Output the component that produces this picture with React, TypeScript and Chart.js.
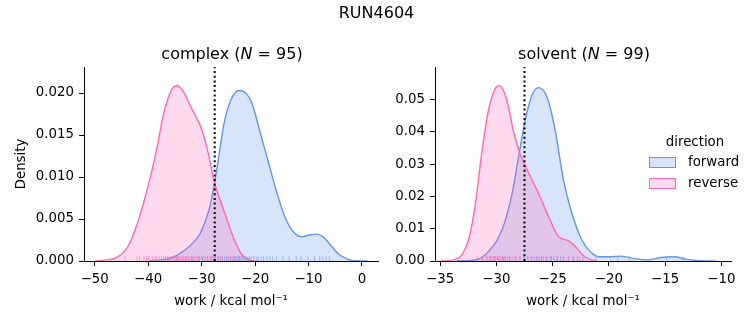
import React, { useEffect, useRef } from 'react';
import { Chart, registerables } from 'chart.js';

Chart.register(...registerables);

const FONT = '"DejaVu Sans", Verdana, sans-serif';
const BLUE = '#6495ED';
const PINK = '#FF69B4';
const BLUE_FILL = 'rgba(100,149,237,0.25)';
const PINK_FILL = 'rgba(255,105,180,0.25)';
const BLUE_RUG = 'rgba(100,149,237,0.55)';
const PINK_RUG = 'rgba(255,105,180,0.6)';

const suptitle = 'RUN4604';
const directionTitle = 'direction';
const directions = ['forward', 'reverse'];
const phases = ['complex', 'solvent'];
const sampleCounts = [95, 99];
const xAxisTitle = 'work / kcal mol\u207B\u00B9';
const yAxisTitle = 'Density';

// ---- complex panel ----
const complexXTicks = [-50, -40, -30, -20, -10, 0];
const complexYTicks = [0, 0.005, 0.01, 0.015, 0.02];
const complexXRange = [-52.0, 3.0];
const complexYMax = 0.0231;
const complexBar = -27.55;

const complexForwardX = [-40, -38.2, -36, -34.5, -32.0, -31.0, -30.1, -28.6, -27.6, -26.7, -25.8, -24.5, -23.0, -21.6, -20.6, -19.0, -17.6, -16.0, -14.5, -13.0, -11.3, -9.8, -8.5, -7.3, -6.0, -4.5, -2.6, -0.5, 1.0];
const complexForwardY = [0, 0.0001, 0.0003, 0.0007, 0.0019, 0.0026, 0.0035, 0.0061, 0.0092, 0.0128, 0.0164, 0.0192, 0.0203, 0.0199, 0.0188, 0.0152, 0.0120, 0.0083, 0.0054, 0.0036, 0.0029, 0.0031, 0.0032, 0.0029, 0.0020, 0.0009, 0.0002, 0, 0];
const complexReverseX = [-50, -48, -46.3, -45, -43.8, -42.0, -40.1, -38.5, -37.0, -35.5, -34.5, -33.0, -32.0, -31.0, -30.1, -29.0, -27.6, -26.0, -24.1, -22.5, -21.0, -19.5];
const complexReverseY = [0, 0.0001, 0.0003, 0.0008, 0.0017, 0.0045, 0.0087, 0.0130, 0.0178, 0.0205, 0.0209, 0.0197, 0.0183, 0.0171, 0.0159, 0.0135, 0.0094, 0.0063, 0.0029, 0.0008, 0.0001, 0];
const complexForwardRug = [-34.6, -32.9, -31.8, -30.5, -29.8, -28.9, -28.2, -27.6, -27.0, -26.5, -26.1, -25.7, -25.3, -24.9, -24.6, -24.3, -24.0, -23.7, -23.4, -23.1, -22.8, -22.5, -22.2, -21.9, -21.5, -21.1, -20.7, -20.3, -19.8, -19.4, -18.9, -18.4, -17.8, -17.2, -16.7, -16.0, -14.8, -13.6, -12.3, -11.4, -10.1, -8.9, -7.9, -7.3, -6.7, -6.1];
const complexReverseRug = [-44.3, -42.1, -41.6, -40.8, -40.3, -39.9, -39.2, -38.7, -38.4, -37.9, -37.5, -37.1, -36.8, -36.4, -36.1, -35.9, -35.6, -35.3, -35.0, -34.8, -34.6, -34.4, -34.1, -33.9, -33.6, -33.4, -33.1, -32.8, -32.5, -32.2, -31.9, -31.6, -31.3, -31.0, -30.7, -30.4, -30.0, -29.6, -29.2, -28.8, -28.3, -27.9, -27.4, -26.8, -26.1, -25.3, -24.6, -23.8, -22.9];

// ---- solvent panel ----
const solventXTicks = [-35, -30, -25, -20, -15, -10];
const solventYTicks = [0, 0.01, 0.02, 0.03, 0.04, 0.05];
const solventXRange = [-35.45, -9.15];
const solventYMax = 0.0601;
const solventBar = -27.5;

const solventForwardX = [-33.5, -31.9, -30.7, -29.5, -28.6, -28.03, -27.44, -26.84, -26.25, -25.5, -24.77, -24.03, -23.28, -22.4, -21.65, -20.76, -19.9, -18.98, -17.8, -16.6, -15.4, -14.24, -13.05, -11.87, -10.5];
const solventForwardY = [0, 0.0003, 0.0029, 0.0096, 0.0209, 0.0322, 0.0436, 0.0513, 0.0537, 0.0508, 0.0405, 0.0250, 0.0147, 0.0065, 0.0029, 0.0013, 0.0013, 0.0015, 0.0008, 0.0003, 0.0011, 0.0013, 0.0005, 0.0001, 0];
const solventReverseX = [-35, -34.26, -33.6, -33.07, -32.48, -31.9, -31.3, -30.7, -30.1, -29.75, -29.06, -28.5, -27.9, -27.1, -26.25, -25.35, -24.5, -23.6, -22.9, -22.3, -21.7, -21.0];
const solventReverseY = [0, 0.0001, 0.0006, 0.0019, 0.0065, 0.0168, 0.0333, 0.0467, 0.0534, 0.0544, 0.0498, 0.0405, 0.0333, 0.0271, 0.0209, 0.0137, 0.0077, 0.0063, 0.0042, 0.0018, 0.0005, 0];
const solventForwardRug = [-31.3, -30.2, -29.4, -28.8, -28.3, -27.9, -27.5, -27.2, -26.9, -26.6, -26.4, -26.2, -26.0, -25.8, -25.5, -25.2, -24.9, -24.6, -24.3, -24.0, -23.6, -23.2, -22.8, -22.3, -21.2, -19.2, -18.2, -14.9, -13.4];
const solventReverseRug = [-31.7, -31.2, -30.9, -30.8, -30.6, -30.5, -30.4, -30.2, -30.1, -30.0, -29.9, -29.8, -29.7, -29.6, -29.5, -29.4, -29.3, -29.2, -29.0, -28.8, -28.5, -28.2, -27.9, -27.6, -27.2, -26.8, -26.4, -26.0, -25.6, -25.1, -24.6, -24.1, -23.6, -23.1, -22.6];

const fmtMinus = (v: number) => (v < 0 ? '\u2212' + String(Math.abs(v)) : String(v));
const toPoints = (xs: number[], ys: number[]) => xs.map((x, i) => ({ x, y: ys[i] }));

const rugPlugin = {
  id: 'rug',
  afterDatasetDraw(chart: any, args: any, opts: any) {
    if (args.index !== 1 || !opts || !opts.series) return;
    const { ctx, chartArea } = chart;
    const xs = chart.scales.x;
    const h = (chartArea.bottom - chartArea.top) * 0.025;
    ctx.save();
    ctx.beginPath();
    ctx.rect(chartArea.left, chartArea.top, chartArea.right - chartArea.left, chartArea.bottom - chartArea.top);
    ctx.clip();
    ctx.lineWidth = 1;
    for (const s of opts.series) {
      ctx.strokeStyle = s.color;
      for (const v of s.values) {
        const px = xs.getPixelForValue(v);
        ctx.beginPath();
        ctx.moveTo(px, chartArea.bottom);
        ctx.lineTo(px, chartArea.bottom - h);
        ctx.stroke();
      }
    }
    ctx.restore();
  },
};

function makeConfig(p: any): any {
  const tickFont = { family: FONT, size: 13.33 };
  const axisCommon = {
    grid: { display: true, drawOnChartArea: false, drawTicks: true, tickLength: 5, tickWidth: 1, color: '#000' },
    border: { display: true, color: '#000', width: 1 },
  };
  return {
    type: 'line',
    data: {
      datasets: [
        {
          data: [{ x: p.bar, y: 0 }, { x: p.bar, y: p.yMax }],
          borderColor: '#000', borderWidth: 2, borderDash: [2, 2.7], pointRadius: 0, fill: false,
        },
        {
          label: directions[1],
          data: toPoints(p.revX, p.revY),
          borderColor: PINK, backgroundColor: PINK_FILL, borderWidth: 1.4, pointRadius: 0,
          fill: 'origin', cubicInterpolationMode: 'monotone',
        },
        {
          label: directions[0],
          data: toPoints(p.fwdX, p.fwdY),
          borderColor: BLUE, backgroundColor: BLUE_FILL, borderWidth: 1.4, pointRadius: 0,
          fill: 'origin', cubicInterpolationMode: 'monotone',
        },
      ],
    },
    options: {
      responsive: false,
      animation: false,
      events: [],
      layout: { padding: p.padding },
      plugins: {
        legend: { display: false },
        tooltip: { enabled: false },
        title: { display: false },
        rug: {
          series: [
            { values: p.fwdRug, color: BLUE_RUG },
            { values: p.revRug, color: PINK_RUG },
          ],
        },
      },
      scales: {
        x: {
          type: 'linear',
          min: p.xRange[0],
          max: p.xRange[1],
          ...axisCommon,
          afterBuildTicks: (s: any) => { s.ticks = p.xTicks.map((value: number) => ({ value })); },
          afterFit: (s: any) => { s.height = 64; },
          ticks: { callback: (v: any) => fmtMinus(Number(v)), color: '#000', font: tickFont, padding: 5.5, maxRotation: 0, autoSkip: false },
          title: { display: true, text: xAxisTitle, color: '#000', font: tickFont, padding: { top: 0, bottom: 15.5 } },
        },
        y: {
          type: 'linear',
          min: 0,
          max: p.yMax,
          ...axisCommon,
          afterBuildTicks: (s: any) => { s.ticks = p.yTicks.map((value: number) => ({ value })); },
          afterFit: (s: any) => { s.width = p.yWidth; },
          ticks: { callback: (v: any) => Number(v).toFixed(p.yDec), color: '#000', font: tickFont, padding: 5, autoSkip: false },
          title: { display: p.showYTitle, text: yAxisTitle, color: '#000', font: tickFont, padding: { top: 13.5, bottom: 0 } },
        },
      },
    },
    plugins: [rugPlugin],
  };
}

function Panel({ cfg }: { cfg: any }) {
  const ref = useRef<HTMLCanvasElement | null>(null);
  useEffect(() => {
    if (!ref.current) return;
    const chart = new Chart(ref.current, makeConfig(cfg));
    return () => chart.destroy();
  }, []);
  return (
    <canvas ref={ref} width={753} height={325}
      style={{ position: 'absolute', left: 0, top: 0, width: 753, height: 325 }} />
  );
}

const textBase: React.CSSProperties = { position: 'absolute', fontFamily: FONT, color: '#000', whiteSpace: 'nowrap', margin: 0 };

export default function App() {
  const complexCfg = {
    fwdX: complexForwardX, fwdY: complexForwardY, revX: complexReverseX, revY: complexReverseY,
    fwdRug: complexForwardRug, revRug: complexReverseRug, bar: complexBar,
    xRange: complexXRange, yMax: complexYMax, xTicks: complexXTicks, yTicks: complexYTicks, yDec: 3,
    showYTitle: true, yWidth: 84, padding: { left: 0, top: 67, right: 375, bottom: 0 },
  };
  const solventCfg = {
    fwdX: solventForwardX, fwdY: solventForwardY, revX: solventReverseX, revY: solventReverseY,
    fwdRug: solventForwardRug, revRug: solventReverseRug, bar: solventBar,
    xRange: solventXRange, yMax: solventYMax, xTicks: solventXTicks, yTicks: solventYTicks, yDec: 2,
    showYTitle: false, yWidth: 55, padding: { left: 380, top: 67, right: 22, bottom: 0 },
  };
  const patch = (fill: string, edge: string, top: number): React.CSSProperties => ({
    position: 'absolute', left: 649, top, width: 27, height: 11, boxSizing: 'border-box',
    background: fill, border: `1px solid ${edge}`,
  });
  return (
    <div style={{ position: 'absolute', left: 0, top: 0, width: 753, height: 325, background: '#fff', overflow: 'hidden' }}>
      <Panel cfg={complexCfg} />
      <Panel cfg={solventCfg} />
      <div style={{ ...textBase, left: 0, width: 753, textAlign: 'center', top: 5, fontSize: 16, lineHeight: '16px' }}>{suptitle}</div>
      <div style={{ ...textBase, left: 85, width: 294, textAlign: 'center', top: 46, fontSize: 16, lineHeight: '16px' }}>
        {phases[0]} (<i>N</i> = {sampleCounts[0]})
      </div>
      <div style={{ ...textBase, left: 436, width: 296, textAlign: 'center', top: 46, fontSize: 16, lineHeight: '16px' }}>
        {phases[1]} (<i>N</i> = {sampleCounts[1]})
      </div>
      <div style={{ ...textBase, left: 640, width: 110, textAlign: 'center', top: 134.7, fontSize: 13.33, lineHeight: '13.33px' }}>{directionTitle}</div>
      <div style={patch(BLUE_FILL, BLUE, 157)} />
      <div style={patch(PINK_FILL, PINK, 178)} />
      <div style={{ ...textBase, left: 688, top: 155.3, fontSize: 13.33, lineHeight: '13.33px' }}>{directions[0]}</div>
      <div style={{ ...textBase, left: 688, top: 176.4, fontSize: 13.33, lineHeight: '13.33px' }}>{directions[1]}</div>
    </div>
  );
}
